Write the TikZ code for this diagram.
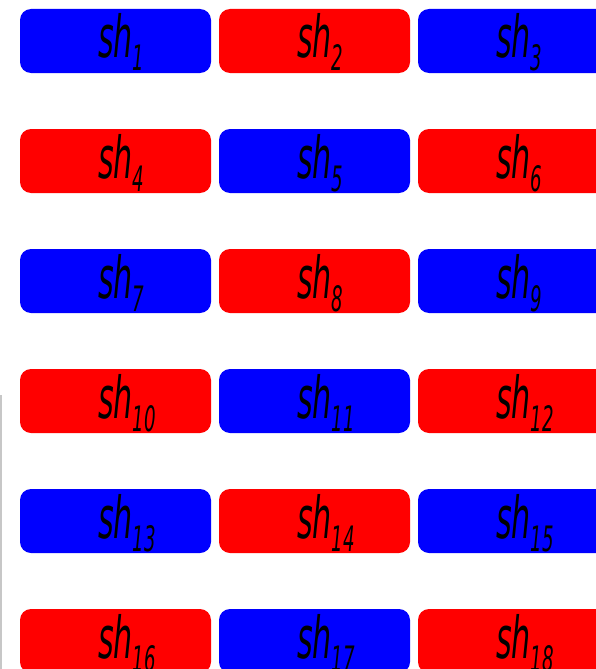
\documentclass[tikz,border=0pt]{standalone}
\usepackage{fontspec}
\newfontfamily\shfont[FakeStretch=0.52]{DejaVu Sans Oblique}
\newcommand{\shlab}[1]{{\shfont\fontsize{58}{58}\selectfont sh\rlap{\raisebox{-13pt}{\fontsize{35}{35}\selectfont #1}}}}

\begin{document}
\begin{tikzpicture}[x=1pt, y=-1pt,
    shbox/.style={minimum width=191pt, minimum height=64pt, inner sep=0pt,
                  rounded corners=11pt, text height=49pt, text depth=15pt},
    blueshard/.style={shbox, fill=blue},
    redshard/.style={shbox, fill=red},
    edgeline/.style={draw=black!22, line width=1.5pt},
]
\useasboundingbox (0,0) rectangle (596,669);

% ===== GRID OF SHARDS =====
\foreach \r in {0,...,5}{
  \foreach \c in {0,1,2}{
    \pgfmathtruncatemacro\n{3*\r+\c+1}
    \pgfmathtruncatemacro\k{mod(\r+\c,2)}
    \ifnum\k=0 \def\shcol{blueshard}\else\def\shcol{redshard}\fi
    \node[\shcol] (sh\n) at (115.5+199*\c, 41+120*\r) {\shlab{\n}};
  }
}

% ===== LEFT EDGE LINE =====
\coordinate (edge-top) at (0.75,395);
\coordinate (edge-bot) at (0.75,669);
\draw[edgeline] (edge-top) -- (edge-bot);
\end{tikzpicture}
\end{document}
